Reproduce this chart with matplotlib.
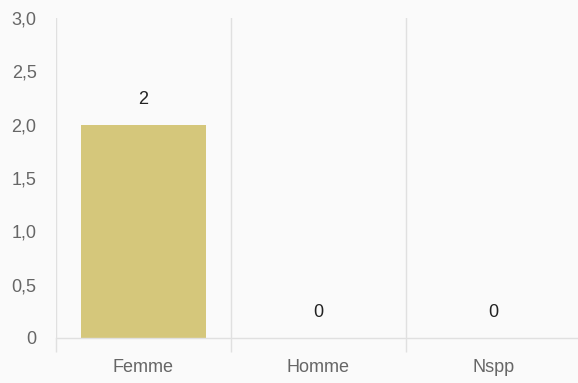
import matplotlib
matplotlib.use("Agg")
import matplotlib.pyplot as plt
from matplotlib.ticker import FixedLocator

categories = ["Femme", "Homme", "Nspp"]
values = [2, 0, 0]
y_ticks = [0, 0.5, 1.0, 1.5, 2.0, 2.5, 3.0]
y_labels = ["0", "0,5", "1,0", "1,5", "2,0", "2,5", "3,0"]

plt.rcParams['font.family'] = ['Liberation Sans', 'DejaVu Sans']

bg = '#fafafa'
grid_c = '#e0e0e0'

fig = plt.figure(figsize=(5.78, 3.83), dpi=100, facecolor=bg)
ax = fig.add_axes([56 / 578, 45 / 383, 525 / 578, 320 / 383])
ax.set_facecolor(bg)

x = range(len(categories))
ax.bar(x, values, width=0.71, color='#d5c77b', zorder=2)

for xi, v in zip(x, values):
    ax.text(xi, v + 0.16, str(v), ha='center', va='bottom', fontsize=13, color='#222222')

ax.set_xlim(-0.5, len(categories) - 0.5)
ax.set_ylim(0, 3.0)

# vertical separators between categories
for b in [-0.5 + i for i in range(len(categories) + 1)]:
    ax.axvline(b, color=grid_c, lw=1, zorder=1)

for s in ['top', 'right', 'left']:
    ax.spines[s].set_visible(False)
ax.spines['bottom'].set_color(grid_c)
ax.spines['bottom'].set_linewidth(1)

ax.set_xticks(list(x))
ax.set_xticklabels(categories, fontsize=13, color='#666666')
ax.xaxis.set_minor_locator(FixedLocator([-0.5 + i for i in range(len(categories) + 1)]))
ax.tick_params(axis='x', which='major', length=0, pad=15)
ax.tick_params(axis='x', which='minor', length=10, color=grid_c, width=1)

ax.set_yticks(y_ticks)
ax.set_yticklabels(y_labels, fontsize=13, color='#666666')
ax.tick_params(axis='y', length=0, pad=14)

fig.savefig("out.png", dpi=100, facecolor=bg)
